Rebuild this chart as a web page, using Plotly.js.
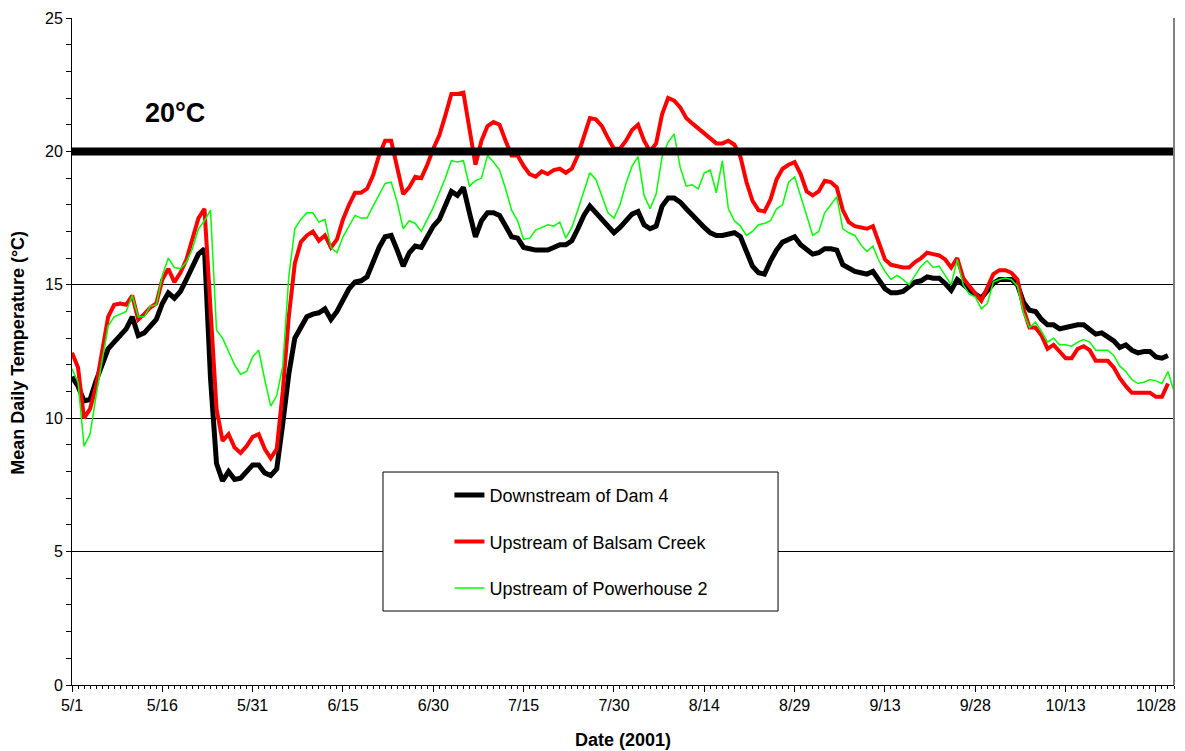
<!DOCTYPE html>
<html>
<head>
<meta charset="utf-8">
<script src="https://cdn.plot.ly/plotly-3.0.1.min.js"></script>
<style>
  html, body { margin: 0; padding: 0; background: #ffffff; }
  #chart { width: 1185px; height: 751px; }
</style>
</head>
<body>
<div id="chart"></div>
<script>
// Daily series start on 5/1/2001, one value per day
const startDate = '2001-05-01';
const axisEnd = '2001-10-31';

// Mean daily water temperature (°C)
const downstreamDam4 = [
  11.55, 11.2, 10.65, 10.7, 11.4, 11.95, 12.6, 12.85, 13.1, 13.35,
  13.8, 13.1, 13.2, 13.45, 13.7, 14.3, 14.7, 14.5, 14.75, 15.2,
  15.7, 16.15, 16.35, 11.5, 8.3, 7.65, 8.0, 7.7, 7.75, 8.0,
  8.25, 8.25, 7.95, 7.85, 8.1, 9.8, 11.65, 13.0, 13.45, 13.8,
  13.9, 13.95, 14.1, 13.7, 14.0, 14.45, 14.85, 15.1, 15.15, 15.3,
  15.85, 16.4, 16.8, 16.85, 16.3, 15.7, 16.2, 16.45, 16.4, 16.85,
  17.2, 17.45, 17.95, 18.5, 18.35, 18.65, 17.7, 16.8, 17.4, 17.7,
  17.7, 17.6, 17.2, 16.8, 16.75, 16.4, 16.35, 16.3, 16.3, 16.3,
  16.4, 16.5, 16.5, 16.65, 17.1, 17.6, 17.95, 17.7, 17.45, 17.25,
  16.95, 17.15, 17.4, 17.65, 17.75, 17.25, 17.1, 17.2, 17.95, 18.25,
  18.25, 18.1, 17.85, 17.6, 17.35, 17.15, 16.95, 16.85, 16.85, 16.9,
  16.95, 16.8, 16.2, 15.7, 15.45, 15.4, 15.9, 16.3, 16.6, 16.7,
  16.8, 16.5, 16.3, 16.15, 16.2, 16.35, 16.35, 16.3, 15.75, 15.6,
  15.5, 15.45, 15.4, 15.5, 15.2, 14.85, 14.7, 14.7, 14.75, 14.9,
  15.1, 15.15, 15.3, 15.25, 15.25, 15.05, 14.8, 15.2, 15.0, 14.8,
  14.65, 14.5, 14.75, 15.05, 15.2, 15.2, 15.2, 15.0, 14.35, 14.05,
  14.0, 13.7, 13.5, 13.5, 13.35, 13.4, 13.45, 13.5, 13.5, 13.35,
  13.15, 13.2, 13.05, 12.9, 12.65, 12.75, 12.55, 12.45, 12.5, 12.5,
  12.3, 12.25, 12.35
];

const upstreamBalsam = [
  12.45, 11.9, 10.0, 10.35, 11.2, 12.45, 13.8, 14.25, 14.3, 14.25,
  14.6, 13.7, 13.9, 14.15, 14.3, 15.2, 15.6, 15.1, 15.45, 15.95,
  16.7, 17.5, 17.85, 14.0, 10.35, 9.15, 9.4, 8.9, 8.7, 8.95,
  9.3, 9.4, 8.85, 8.5, 8.85, 11.0, 13.8, 15.8, 16.6, 16.85,
  17.0, 16.65, 16.85, 16.4, 16.7, 17.45, 18.0, 18.45, 18.45, 18.6,
  19.1, 19.85, 20.4, 20.4, 19.4, 18.4, 18.65, 19.05, 19.0, 19.5,
  20.1, 20.6, 21.35, 22.15, 22.15, 22.2, 20.85, 19.5, 20.4, 20.95,
  21.1, 21.0, 20.4, 19.85, 19.85, 19.45, 19.15, 19.05, 19.25, 19.15,
  19.3, 19.35, 19.2, 19.35, 19.85, 20.5, 21.25, 21.2, 20.95, 20.5,
  20.1, 20.1, 20.4, 20.8, 21.0, 20.4, 20.0, 20.3, 21.4, 22.0,
  21.9, 21.65, 21.25, 21.05, 20.85, 20.65, 20.45, 20.3, 20.3, 20.4,
  20.25, 19.8, 18.85, 18.15, 17.8, 17.75, 18.2, 18.95, 19.35, 19.5,
  19.6, 19.15, 18.5, 18.35, 18.5, 18.9, 18.85, 18.65, 17.8, 17.35,
  17.2, 17.15, 17.1, 17.2, 16.6, 15.95, 15.75, 15.7, 15.65, 15.65,
  15.85, 16.0, 16.2, 16.15, 16.1, 15.95, 15.65, 16.0, 15.25, 14.95,
  14.7, 14.4, 14.9, 15.4, 15.55, 15.55, 15.45, 15.2, 14.1, 13.4,
  13.4, 13.1, 12.6, 12.75, 12.5, 12.25, 12.25, 12.6, 12.7, 12.55,
  12.15, 12.15, 12.15, 11.9, 11.5, 11.2, 10.95, 10.95, 10.95, 10.95,
  10.8, 10.8, 11.3
];

const upstreamPowerhouse2 = [
  11.85, 11.35, 8.95, 9.4, 10.85, 12.2, 13.45, 13.8, 13.9, 14.0,
  14.6, 13.8, 13.8, 14.2, 14.25, 15.35, 16.0, 15.65, 15.6, 15.85,
  16.35, 17.1, 17.4, 17.8, 13.3, 13.0, 12.5, 12.0, 11.65, 11.75,
  12.3, 12.55, 11.45, 10.45, 10.85, 11.95, 15.3, 17.1, 17.45, 17.7,
  17.7, 17.35, 17.45, 16.4, 16.2, 16.8, 17.2, 17.6, 17.5, 17.5,
  17.95, 18.35, 18.8, 18.85, 18.1, 17.1, 17.4, 17.3, 17.0, 17.45,
  17.9, 18.45, 19.0, 19.65, 19.6, 19.65, 18.7, 18.9, 19.0, 19.85,
  19.6, 19.3, 18.6, 17.8, 17.4, 16.7, 16.75, 17.05, 17.15, 17.25,
  17.2, 17.35, 16.75, 17.15, 17.8, 18.5, 19.2, 18.95, 18.3, 17.7,
  17.5, 18.0, 18.8, 19.45, 19.8, 18.35, 17.85, 18.4, 19.8, 20.35,
  20.65, 19.4, 18.7, 18.75, 18.6, 19.2, 19.3, 18.45, 19.65, 17.85,
  17.4, 17.2, 16.85, 17.0, 17.25, 17.3, 17.4, 17.85, 18.0, 18.85,
  19.05, 18.35, 17.6, 16.85, 17.0, 17.7, 18.0, 18.3, 17.1, 16.95,
  16.85, 16.5, 16.25, 16.45, 15.9, 15.5, 15.2, 15.35, 15.2, 15.0,
  15.35, 15.7, 15.9, 15.65, 15.7, 15.35, 15.0, 15.95, 15.0, 14.65,
  14.55, 14.1, 14.3, 15.1, 15.2, 15.25, 15.2, 14.95, 13.95, 13.4,
  13.6, 13.25, 12.85, 13.0, 12.75, 12.75, 12.7, 12.85, 12.95, 12.85,
  12.55, 12.55, 12.55, 12.35, 11.95, 11.75, 11.45, 11.3, 11.35, 11.45,
  11.4, 11.3, 11.75, 11.0
];

const thresholdC = 20;
const thresholdLabel = '20°C';
const yTitle = 'Mean Daily Temperature (°C)';
const xTitle = 'Date (2001)';
const xTickDays = 15;

// Consecutive calendar dates for a daily series
function dailyDates(n) {
  const t0 = Date.parse(startDate + 'T00:00:00Z');
  const out = [];
  for (let i = 0; i < n; i++) {
    out.push(new Date(t0 + i * 86400000).toISOString().slice(0, 10));
  }
  return out;
}

const FONT = '"Liberation Sans", Arial, sans-serif';
const DAY = 86400000;

const traces = [
  {
    x: dailyDates(downstreamDam4.length), y: downstreamDam4,
    name: 'Downstream of Dam 4', legendgroup: 'a',
    type: 'scatter', mode: 'lines',
    line: { color: '#000000', width: 5 }
  },
  {
    x: dailyDates(upstreamBalsam.length), y: upstreamBalsam,
    name: 'Upstream of Balsam Creek', legendgroup: 'b',
    type: 'scatter', mode: 'lines',
    line: { color: '#ff0000', width: 4 }
  },
  {
    x: dailyDates(upstreamPowerhouse2.length), y: upstreamPowerhouse2,
    name: 'Upstream of Powerhouse 2', legendgroup: 'c',
    type: 'scatter', mode: 'lines',
    line: { color: '#00ff00', width: 1.5 }
  }
];

const xCommon = {
  type: 'date',
  range: [startDate, axisEnd],
  tick0: startDate,
  dtick: xTickDays * DAY,
  showgrid: false,
  zeroline: false,
  tickcolor: '#000'
};

const yCommon = {
  range: [0, 25],
  dtick: 5,
  tick0: 0,
  zeroline: false,
  tickcolor: '#000'
};

const layout = {
  width: 1185,
  height: 751,
  margin: { l: 72, r: 11, t: 18, b: 66 },
  paper_bgcolor: '#ffffff',
  plot_bgcolor: '#ffffff',
  font: { family: FONT, color: '#000', size: 16 },
  showlegend: true,
  legend: {
    x: 0.3425, y: 0.312, xanchor: 'left', yanchor: 'top',
    bgcolor: 'rgba(0,0,0,0)',
    borderwidth: 0,
    traceorder: 'grouped',
    tracegroupgap: 20,
    font: { family: FONT, size: 18, color: '#000' }
  },
  xaxis: Object.assign({}, xCommon, {
    tickformat: '%-m/%-d',
    ticks: 'outside', ticklen: 6, tickwidth: 1,
    showline: true, linecolor: '#000', linewidth: 1,
    tickfont: { family: FONT, size: 16, color: '#000' },
    minor: { dtick: DAY, ticks: 'outside', ticklen: 3, tickcolor: '#000', tickwidth: 1, showgrid: false },
    title: { text: '<b>' + xTitle + '</b>', font: { family: FONT, size: 18, color: '#000' }, standoff: 20 }
  }),
  xaxis2: Object.assign({}, xCommon, {
    overlaying: 'x', anchor: 'y', side: 'bottom',
    showticklabels: false, showline: false,
    ticks: 'inside', ticklen: 3, tickwidth: 1,
    minor: { dtick: DAY, ticks: 'inside', ticklen: 3, tickcolor: '#000', tickwidth: 1, showgrid: false }
  }),
  yaxis: Object.assign({}, yCommon, {
    ticks: 'outside', ticklen: 5, tickwidth: 1,
    showline: true, linecolor: '#000', linewidth: 1,
    showgrid: true, gridcolor: '#000', gridwidth: 1,
    tickfont: { family: FONT, size: 16, color: '#000' },
    minor: { dtick: 1, ticks: 'outside', ticklen: 5, tickcolor: '#000', tickwidth: 1, showgrid: false }
  }),
  yaxis2: Object.assign({}, yCommon, {
    overlaying: 'y', anchor: 'x', side: 'left',
    showticklabels: false, showline: false, showgrid: false,
    ticks: 'inside', ticklen: 4, tickwidth: 1,
    minor: { dtick: 1, ticks: 'inside', ticklen: 4, tickcolor: '#000', tickwidth: 1, showgrid: false }
  }),
  shapes: [
    // 20 °C reference line across the full plot width
    { type: 'line', xref: 'paper', yref: 'y', x0: 0, x1: 1, y0: thresholdC, y1: thresholdC,
      line: { color: '#000', width: 8 }, layer: 'above' },
    // right border of the plotting area
    { type: 'line', xref: 'paper', yref: 'paper', x0: 1, x1: 1, y0: 0, y1: 1,
      line: { color: '#808080', width: 2 }, layer: 'above' },
    // legend frame
    { type: 'rect', xref: 'paper', yref: 'paper', x0: 0.2822, x1: 0.6407, y0: 0.1109, y1: 0.3193,
      fillcolor: '#ffffff', line: { color: '#000', width: 1 }, layer: 'above' }
  ],
  annotations: [
    { text: '<b>' + thresholdLabel + '</b>', xref: 'paper', yref: 'y', x: 0.0935, y: 21.45,
      showarrow: false, xanchor: 'center', yanchor: 'middle',
      font: { family: FONT, size: 27, color: '#000' } },
    // vertical axis title
    { text: '<b>' + yTitle + '</b>', xref: 'paper', yref: 'paper', x: -0.049, y: 0.498,
      textangle: -90, showarrow: false, xanchor: 'center', yanchor: 'middle',
      font: { family: FONT, size: 18, color: '#000' } }
  ]
};

Plotly.newPlot('chart', traces, layout, { staticPlot: true, displayModeBar: false });
</script>
</body>
</html>
